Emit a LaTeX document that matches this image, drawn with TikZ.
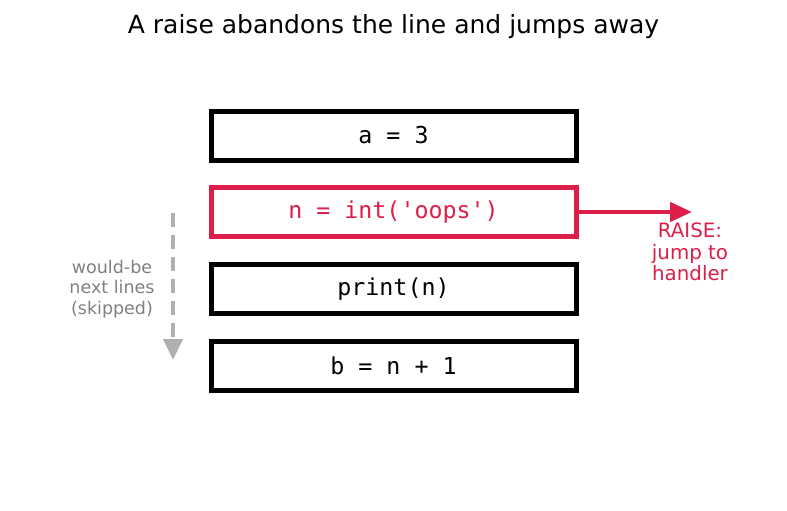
\documentclass[tikz,border=0pt]{standalone}
\usepackage{fontspec}
\setmainfont{DejaVu Sans}
\setmonofont{DejaVu Sans Mono}
\usetikzlibrary{arrows.meta}
\definecolor{raisered}{RGB}{220,30,72}
\definecolor{skipgray}{RGB}{128,128,128}
\definecolor{arrgray}{RGB}{176,176,176}
\begin{document}
\begin{tikzpicture}[x=1pt,y=-1pt,
  codebox/.style={draw=black,line width=5pt,minimum width=365pt,minimum height=49pt,inner sep=0pt,
    font=\ttfamily\fontsize{23.3}{27}\selectfont},
  errbox/.style={codebox,draw=raisered,text=raisered}]
\useasboundingbox (0,0) rectangle (787,511);
\node[font=\fontsize{25}{30}\selectfont,anchor=base] (title) at (393.5,34) {A raise abandons the line and jumps away};
\node[codebox] (b1) at (393.5,135.5) {a = 3};
\node[errbox] (b2) at (393.5,212) {n = int('oops')};
\node[codebox] (b3) at (393.5,289) {print(n)};
\node[codebox] (b4) at (393.5,366) {b = n + 1};
\coordinate (rend) at (692,212);
\draw[raisered,line width=4.6pt,-{Triangle[length=22pt,width=19pt]}] (b2.east) -- (rend);
\node[text=raisered,align=center,font=\fontsize{19.8}{21.5}\selectfont] (raise) at (690,252) {RAISE:\\jump to\\handler};
\coordinate (gs) at (173,213);
\coordinate (ge) at (173,360);
\draw[arrgray,line width=4pt,dash pattern=on 14pt off 8pt,-{Triangle[length=21pt,width=19pt]}] (gs) -- (ge);
\node[text=skipgray,align=center,font=\fontsize{17.5}{20.5}\selectfont] (skip) at (112,289) {would-be\\next lines\\(skipped)};
\end{tikzpicture}
\end{document}
